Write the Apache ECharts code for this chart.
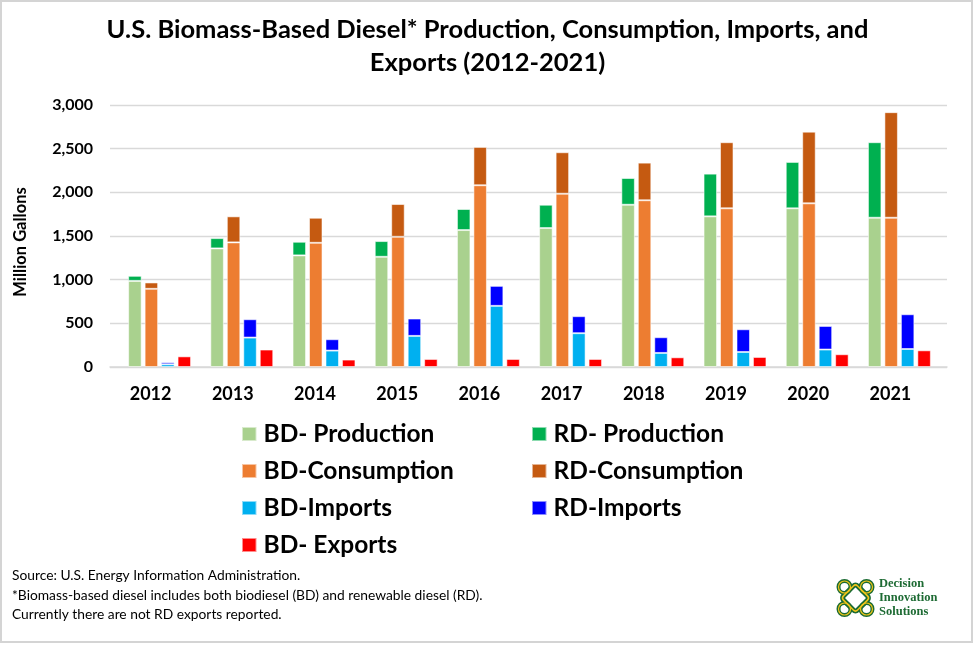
<!DOCTYPE html>
<html>
<head>
<meta charset="utf-8">
<script src="https://cdn.jsdelivr.net/npm/echarts@6/dist/echarts.min.js"></script>
<style>
html,body{margin:0;padding:0;background:#fff;}
#chart{width:975px;height:645px;}
</style>
</head>
<body>
<div id="chart"></div>
<script>
// ---- data (million gallons) ----
const years = ['2012','2013','2014','2015','2016','2017','2018','2019','2020','2021'];
const bdProduction  = [986, 1358, 1278, 1262, 1568, 1591, 1858, 1725, 1817, 1709];
const rdProduction  = [58, 118, 156, 180, 241, 267, 306, 489, 531, 865];
const bdConsumption = [895, 1427, 1422, 1491, 2081, 1984, 1909, 1817, 1874, 1709];
const rdConsumption = [73, 298, 287, 375, 439, 475, 431, 757, 821, 1209];
const bdImports     = [31, 337, 188, 356, 700, 387, 161, 172, 200, 206];
const rdImports     = [23, 210, 130, 199, 229, 195, 180, 260, 270, 398];
const bdExports     = [122, 200, 85, 92, 92, 92, 111, 115, 146, 191];
const yTicks = { min: 0, max: 3000, interval: 500 };

const FONT = 'Lato';
const chart = echarts.init(document.getElementById('chart'), null, {renderer:'canvas'});

function bar(name, data, stack, color) {
  return {
    name, type: 'bar', data, stack,
    xAxisIndex: 1, yAxisIndex: 1,
    barWidth: 13.5, barGap: '22%',
    itemStyle: { color, borderColor: 'rgba(255,255,255,0.55)', borderWidth: 1 },
    emphasis: { disabled: true }
  };
}

const legendText = { fontFamily: FONT, fontWeight: 'bold', fontSize: 24.5, color: '#000', lineHeight: 26, padding: [0,0,0,2] };

const option = {
  animation: false,
  backgroundColor: '#fff',
  title: {
    text: 'U.S. Biomass-Based Diesel* Production, Consumption, Imports, and\nExports (2012-2021)',
    left: 'center', top: 13, padding: 0,
    textStyle: { fontFamily: FONT, fontWeight: 'bold', fontSize: 25.5, lineHeight: 33, color: '#000' }
  },
  legend: [
    { orient: 'vertical', left: 241, top: 421, padding: 0, itemGap: 11, itemWidth: 14.5, itemHeight: 14, icon: 'rect',
      data: ['BD- Production','BD-Consumption','BD-Imports','BD- Exports'], textStyle: legendText, selectedMode: false },
    { orient: 'vertical', left: 531, top: 421, padding: 0, itemGap: 11, itemWidth: 14.5, itemHeight: 14, icon: 'rect',
      data: ['RD- Production','RD-Consumption','RD-Imports'], textStyle: legendText, selectedMode: false }
  ],
  grid: [
    { left: 110, width: 837, top: 105, height: 262 },
    { left: 118.5, width: 822, top: 105, height: 262 }
  ],
  xAxis: [
    { gridIndex: 0, type: 'category', data: years,
      axisLine: { lineStyle: { color: '#d9d9d9', width: 1.5 } }, axisTick: { show: false }, axisLabel: { show: false } },
    { gridIndex: 1, type: 'category', data: years,
      axisLine: { show: false }, axisTick: { show: false },
      axisLabel: { fontFamily: FONT, fontWeight: 'bold', fontSize: 18, color: '#000', margin: 18, padding: [0,18,0,0] } }
  ],
  yAxis: [
    { gridIndex: 0, type: 'value', min: yTicks.min, max: yTicks.max, interval: yTicks.interval,
      axisLine: { show: false }, axisTick: { show: false },
      splitLine: { lineStyle: { color: '#d9d9d9', width: 1.3 } },
      axisLabel: { fontFamily: FONT, fontWeight: 'bold', fontSize: 16, color: '#000', margin: 17,
        formatter: v => v.toLocaleString('en-US') },
      name: 'Million Gallons', nameLocation: 'middle', nameGap: 81, nameRotate: 90,
      nameTextStyle: { fontFamily: FONT, fontWeight: 'bold', fontSize: 16.5, color: '#000', padding: [0,12,0,0] } },
    { gridIndex: 1, type: 'value', min: yTicks.min, max: yTicks.max, interval: yTicks.interval, show: false }
  ],
  series: [
    bar('BD- Production', bdProduction, 'prod', '#A9D18E'),
    bar('RD- Production', rdProduction, 'prod', '#00B050'),
    bar('BD-Consumption', bdConsumption, 'cons', '#ED7D31'),
    bar('RD-Consumption', rdConsumption, 'cons', '#C55A11'),
    bar('BD-Imports', bdImports, 'imp', '#00B0F0'),
    bar('RD-Imports', rdImports, 'imp', '#0000FF'),
    bar('BD- Exports', bdExports, 'exp', '#FF0000')
  ],
  graphic: [
    { type: 'rect', shape: { x: 1, y: 1, width: 971, height: 641 }, style: { fill: 'none', stroke: '#d4d4d4', lineWidth: 2 }, silent: true },
    { type: 'text', left: 12, top: 566, silent: true,
      style: { text: 'Source: U.S. Energy Information Administration.\n*Biomass-based diesel includes both biodiesel (BD) and renewable diesel (RD).\nCurrently there are not RD exports reported.',
        fontFamily: FONT, fontSize: 13.8, lineHeight: 19.5, fill: '#000' } },
    // logo knot
    { type: 'group', x: 855.5, y: 598, silent: true, children: [
      { type: 'rect', rotation: Math.PI/4, shape: { x: -10, y: -10, width: 20, height: 20, r: 3 }, style: { fill: 'none', stroke: '#1b6b33', lineWidth: 5 } },
      { type: 'circle', shape: { cx: -11, cy: -11, r: 6 }, style: { fill: 'none', stroke: '#1b6b33', lineWidth: 4 } },
      { type: 'circle', shape: { cx: 11, cy: -11, r: 6 }, style: { fill: 'none', stroke: '#1b6b33', lineWidth: 4 } },
      { type: 'circle', shape: { cx: -11, cy: 11, r: 6 }, style: { fill: 'none', stroke: '#1b6b33', lineWidth: 4 } },
      { type: 'circle', shape: { cx: 11, cy: 11, r: 6 }, style: { fill: 'none', stroke: '#1b6b33', lineWidth: 4 } },
      { type: 'rect', rotation: Math.PI/4, shape: { x: -10, y: -10, width: 20, height: 20, r: 3 }, style: { fill: 'none', stroke: '#f0c419', lineWidth: 1.5 } },
      { type: 'circle', shape: { cx: -11, cy: -11, r: 6 }, style: { fill: 'none', stroke: '#f0c419', lineWidth: 1.2 } },
      { type: 'circle', shape: { cx: 11, cy: -11, r: 6 }, style: { fill: 'none', stroke: '#f0c419', lineWidth: 1.2 } },
      { type: 'circle', shape: { cx: -11, cy: 11, r: 6 }, style: { fill: 'none', stroke: '#f0c419', lineWidth: 1.2 } },
      { type: 'circle', shape: { cx: 11, cy: 11, r: 6 }, style: { fill: 'none', stroke: '#f0c419', lineWidth: 1.2 } }
    ]},
    { type: 'text', left: 879, top: 577, silent: true,
      style: { text: 'Decision\nInnovation\nSolutions', fontFamily: 'Liberation Serif', fontWeight: 'bold', fontSize: 12.5, lineHeight: 13.8, fill: '#1e6b34' } }
  ]
};
chart.setOption(option);
</script>
</body>
</html>
